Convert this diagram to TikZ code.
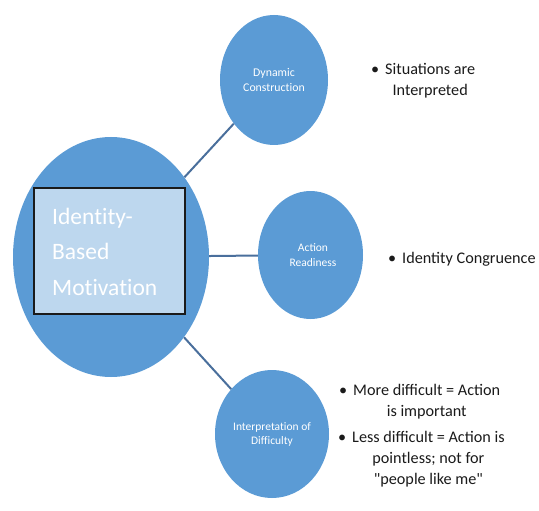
\documentclass[tikz,border=0pt]{standalone}
\usepackage{fontspec}
\setmainfont{Carlito}[Ligatures=TeXOff]
\newfontfamily\plainlig{Carlito}[Ligatures={TeXOff,NoCommon}]
\usetikzlibrary{shapes.geometric}
\definecolor{circfill}{HTML}{5B9BD5}
\definecolor{boxfill}{HTML}{BDD7EE}
\definecolor{linkcol}{HTML}{4A6F9C}
\definecolor{txtcol}{HTML}{1A1A1A}
\tikzset{
  bubble/.style={ellipse, fill=circfill, draw=none, inner sep=0pt, text=white, align=center},
  link/.style={draw=linkcol, line width=2pt},
  bullettext/.style={anchor=base west, inner sep=0pt, text=txtcol, font=\fontsize{16.2}{21}\selectfont},
}
\newcommand{\bitem}[1]{\makebox[14pt][l]{\textbullet}\begin{tabular}[t]{@{}c@{}}#1\end{tabular}}
\begin{document}
\begin{tikzpicture}[x=1pt,y=-1pt]
\useasboundingbox (0,0) rectangle (539,511);
% main bubble
\node[bubble, minimum width=196pt, minimum height=240pt] (big) at (111,257) {};
\node[draw=txtcol, line width=1.5pt, fill=boxfill, minimum width=151pt, minimum height=126pt, inner sep=0pt] (box) at (109.5,251) {};
\node[anchor=base west, inner sep=0pt, text=white, align=left, font=\plainlig\fontsize{23.5}{35.5}\selectfont] (bigtext) at (52,295) {Identity-\\Based\\Motivation};
% satellite bubbles
\node[bubble, minimum width=108pt, minimum height=130pt, font=\plainlig\fontsize{11.8}{15.5}\selectfont] (dyn) at (274,80) {Dynamic\\Construction};
\node[bubble, minimum width=105pt, minimum height=128pt, font=\fontsize{11.5}{15}\selectfont] (act) at (310.5,255) {\hspace*{5pt}Action\\\hspace*{5pt}Readiness};
\node[bubble, minimum width=114pt, minimum height=128pt, font=\plainlig\fontsize{11.5}{14}\selectfont] (diff) at (272,434) {Interpretation of\\Difficulty};
% connectors
\draw[link] (big) -- (dyn);
\draw[link] (big) -- (act);
\draw[link] (big) -- (diff);
% bullet texts
\node[bullettext] (b1) at (371,75) {\bitem{Situations are\\Interpreted}};
\node[bullettext] (b2) at (388,263) {\bitem{Identity Congruence}};
\node[bullettext] (b3) at (339,395) {\bitem{More difficult = Action\\is important}};
\node[bullettext] (b4) at (338,442) {\bitem{Less difficult = Action is\\pointless; not for\\"people like me"}};
\end{tikzpicture}
\end{document}
